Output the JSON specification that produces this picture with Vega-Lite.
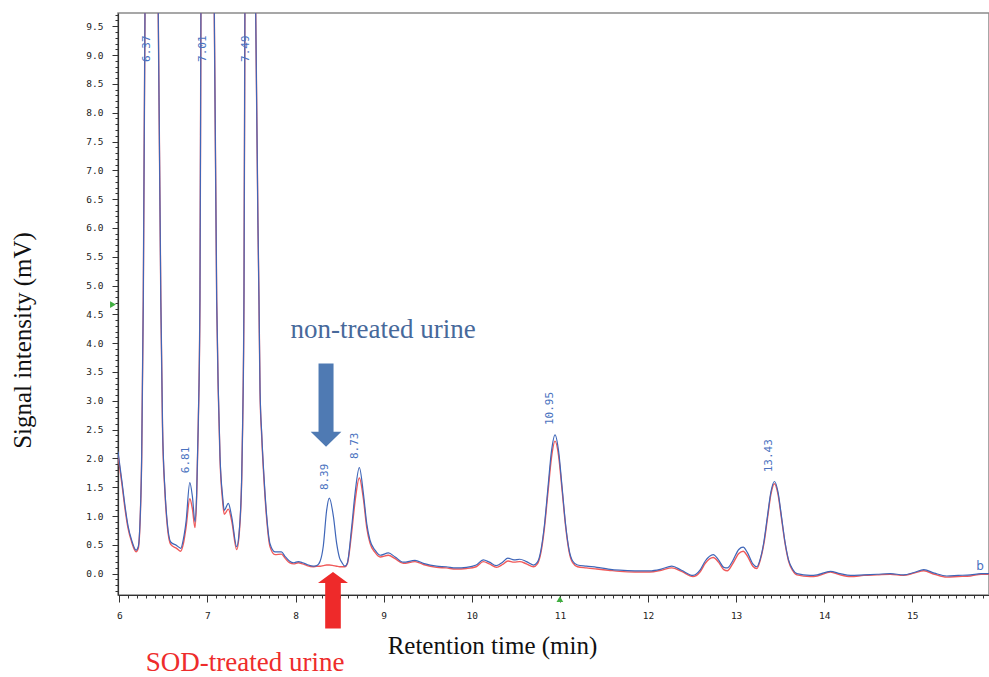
{
  "$schema": "https://vega.github.io/schema/vega-lite/v6.json",
  "width": 871,
  "height": 582,
  "autosize": {"type": "none"},
  "padding": {"left": 118, "top": 13, "right": 0, "bottom": 82},
  "background": "white",
  "config": {"view": {"stroke": "#8a8a8a", "strokeWidth": 1.5}, "axis": {"grid": false}},
  "datasets": {
    "lines": [
      {"t": 5.985, "nt": 2.12, "sod": 2.06},
      {"t": 6.03, "nt": 1.60, "sod": 1.55},
      {"t": 6.065, "nt": 1.17, "sod": 1.12},
      {"t": 6.10, "nt": 0.82, "sod": 0.78},
      {"t": 6.14, "nt": 0.58, "sod": 0.55},
      {"t": 6.19, "nt": 0.41, "sod": 0.38},
      {"t": 6.215, "nt": 0.47, "sod": 0.44},
      {"t": 6.235, "nt": 0.90, "sod": 0.88},
      {"t": 6.254, "nt": 2.05, "sod": 2.03},
      {"t": 6.272, "nt": 4.75, "sod": 4.75},
      {"t": 6.291, "nt": 9.7, "sod": 9.7},
      {"t": 6.31, "nt": 16, "sod": 16},
      {"t": 6.34, "nt": 24, "sod": 24},
      {"t": 6.37, "nt": 26, "sod": 26},
      {"t": 6.40, "nt": 22, "sod": 22},
      {"t": 6.425, "nt": 14, "sod": 14},
      {"t": 6.442, "nt": 9.7, "sod": 9.7},
      {"t": 6.471, "nt": 4.75, "sod": 4.75},
      {"t": 6.49, "nt": 2.60, "sod": 2.55},
      {"t": 6.518, "nt": 1.45, "sod": 1.40},
      {"t": 6.545, "nt": 0.87, "sod": 0.82},
      {"t": 6.583, "nt": 0.55, "sod": 0.51},
      {"t": 6.65, "nt": 0.49, "sod": 0.44},
      {"t": 6.697, "nt": 0.44, "sod": 0.39},
      {"t": 6.727, "nt": 0.60, "sod": 0.52},
      {"t": 6.757, "nt": 0.90, "sod": 0.80},
      {"t": 6.80, "nt": 1.58, "sod": 1.30},
      {"t": 6.83, "nt": 1.33, "sod": 1.12},
      {"t": 6.859, "nt": 0.90, "sod": 0.80},
      {"t": 6.878, "nt": 1.40, "sod": 1.35},
      {"t": 6.896, "nt": 2.60, "sod": 2.58},
      {"t": 6.915, "nt": 4.75, "sod": 4.75},
      {"t": 6.926, "nt": 9.7, "sod": 9.7},
      {"t": 6.95, "nt": 17, "sod": 17},
      {"t": 6.98, "nt": 23, "sod": 23},
      {"t": 7.005, "nt": 25, "sod": 25},
      {"t": 7.035, "nt": 22, "sod": 22},
      {"t": 7.06, "nt": 15, "sod": 15},
      {"t": 7.078, "nt": 9.7, "sod": 9.7},
      {"t": 7.105, "nt": 4.75, "sod": 4.75},
      {"t": 7.123, "nt": 3.19, "sod": 3.15},
      {"t": 7.143, "nt": 2.03, "sod": 1.98},
      {"t": 7.173, "nt": 1.33, "sod": 1.25},
      {"t": 7.191, "nt": 1.10, "sod": 1.03},
      {"t": 7.237, "nt": 1.22, "sod": 1.12},
      {"t": 7.275, "nt": 0.99, "sod": 0.92},
      {"t": 7.332, "nt": 0.47, "sod": 0.42},
      {"t": 7.362, "nt": 0.76, "sod": 0.72},
      {"t": 7.389, "nt": 1.68, "sod": 1.65},
      {"t": 7.40, "nt": 2.61, "sod": 2.60},
      {"t": 7.415, "nt": 4.92, "sod": 4.92},
      {"t": 7.425, "nt": 9.7, "sod": 9.7},
      {"t": 7.45, "nt": 16, "sod": 16},
      {"t": 7.48, "nt": 20, "sod": 20},
      {"t": 7.51, "nt": 18, "sod": 18},
      {"t": 7.535, "nt": 13, "sod": 13},
      {"t": 7.548, "nt": 9.7, "sod": 9.7},
      {"t": 7.585, "nt": 4.75, "sod": 4.75},
      {"t": 7.597, "nt": 3.19, "sod": 3.15},
      {"t": 7.616, "nt": 2.43, "sod": 2.38},
      {"t": 7.642, "nt": 1.68, "sod": 1.62},
      {"t": 7.673, "nt": 0.99, "sod": 0.94},
      {"t": 7.71, "nt": 0.52, "sod": 0.47},
      {"t": 7.767, "nt": 0.38, "sod": 0.33},
      {"t": 7.84, "nt": 0.38, "sod": 0.34},
      {"t": 7.88, "nt": 0.30, "sod": 0.27},
      {"t": 7.93, "nt": 0.22, "sod": 0.19},
      {"t": 7.98, "nt": 0.19, "sod": 0.17},
      {"t": 8.03, "nt": 0.21, "sod": 0.19},
      {"t": 8.08, "nt": 0.19, "sod": 0.17},
      {"t": 8.13, "nt": 0.16, "sod": 0.14},
      {"t": 8.20, "nt": 0.13, "sod": 0.12},
      {"t": 8.24, "nt": 0.14, "sod": 0.13},
      {"t": 8.28, "nt": 0.22, "sod": 0.13},
      {"t": 8.315, "nt": 0.48, "sod": 0.14},
      {"t": 8.353, "nt": 1.10, "sod": 0.15},
      {"t": 8.383, "nt": 1.31, "sod": 0.15},
      {"t": 8.43, "nt": 0.99, "sod": 0.14},
      {"t": 8.467, "nt": 0.52, "sod": 0.13},
      {"t": 8.50, "nt": 0.27, "sod": 0.12},
      {"t": 8.524, "nt": 0.20, "sod": 0.12},
      {"t": 8.56, "nt": 0.13, "sod": 0.12},
      {"t": 8.587, "nt": 0.18, "sod": 0.17},
      {"t": 8.637, "nt": 0.81, "sod": 0.72},
      {"t": 8.675, "nt": 1.39, "sod": 1.25},
      {"t": 8.724, "nt": 1.84, "sod": 1.66},
      {"t": 8.77, "nt": 1.39, "sod": 1.30},
      {"t": 8.808, "nt": 0.87, "sod": 0.80},
      {"t": 8.845, "nt": 0.58, "sod": 0.53},
      {"t": 8.902, "nt": 0.41, "sod": 0.37},
      {"t": 8.96, "nt": 0.32, "sod": 0.29},
      {"t": 9.054, "nt": 0.36, "sod": 0.32},
      {"t": 9.13, "nt": 0.29, "sod": 0.26},
      {"t": 9.223, "nt": 0.20, "sod": 0.18},
      {"t": 9.356, "nt": 0.23, "sod": 0.21},
      {"t": 9.45, "nt": 0.18, "sod": 0.16},
      {"t": 9.60, "nt": 0.13, "sod": 0.11},
      {"t": 9.71, "nt": 0.12, "sod": 0.10},
      {"t": 9.82, "nt": 0.10, "sod": 0.08},
      {"t": 9.94, "nt": 0.11, "sod": 0.09},
      {"t": 10.05, "nt": 0.15, "sod": 0.12},
      {"t": 10.13, "nt": 0.24, "sod": 0.21},
      {"t": 10.20, "nt": 0.20, "sod": 0.17},
      {"t": 10.28, "nt": 0.14, "sod": 0.11},
      {"t": 10.35, "nt": 0.20, "sod": 0.16},
      {"t": 10.41, "nt": 0.27, "sod": 0.22},
      {"t": 10.48, "nt": 0.24, "sod": 0.20},
      {"t": 10.545, "nt": 0.25, "sod": 0.21},
      {"t": 10.62, "nt": 0.21, "sod": 0.17},
      {"t": 10.70, "nt": 0.15, "sod": 0.12},
      {"t": 10.745, "nt": 0.20, "sod": 0.17},
      {"t": 10.785, "nt": 0.41, "sod": 0.37},
      {"t": 10.825, "nt": 0.85, "sod": 0.80},
      {"t": 10.865, "nt": 1.50, "sod": 1.42},
      {"t": 10.905, "nt": 2.13, "sod": 2.02},
      {"t": 10.945, "nt": 2.41, "sod": 2.30},
      {"t": 10.985, "nt": 2.13, "sod": 2.05},
      {"t": 11.025, "nt": 1.50, "sod": 1.45},
      {"t": 11.065, "nt": 0.85, "sod": 0.82},
      {"t": 11.105, "nt": 0.41, "sod": 0.38},
      {"t": 11.145, "nt": 0.22, "sod": 0.19},
      {"t": 11.20, "nt": 0.15, "sod": 0.12},
      {"t": 11.30, "nt": 0.13, "sod": 0.10},
      {"t": 11.42, "nt": 0.11, "sod": 0.08},
      {"t": 11.55, "nt": 0.08, "sod": 0.06},
      {"t": 11.68, "nt": 0.06, "sod": 0.04},
      {"t": 11.85, "nt": 0.05, "sod": 0.03},
      {"t": 12.02, "nt": 0.05, "sod": 0.03},
      {"t": 12.15, "nt": 0.08, "sod": 0.06},
      {"t": 12.27, "nt": 0.13, "sod": 0.10},
      {"t": 12.38, "nt": 0.06, "sod": 0.04},
      {"t": 12.51, "nt": -0.03, "sod": -0.05},
      {"t": 12.59, "nt": 0.06, "sod": 0.03},
      {"t": 12.65, "nt": 0.22, "sod": 0.18},
      {"t": 12.74, "nt": 0.33, "sod": 0.28},
      {"t": 12.80, "nt": 0.24, "sod": 0.20},
      {"t": 12.86, "nt": 0.11, "sod": 0.07},
      {"t": 12.90, "nt": 0.10, "sod": 0.05},
      {"t": 12.96, "nt": 0.22, "sod": 0.17},
      {"t": 13.03, "nt": 0.42, "sod": 0.35},
      {"t": 13.08, "nt": 0.46, "sod": 0.39},
      {"t": 13.13, "nt": 0.36, "sod": 0.30},
      {"t": 13.19, "nt": 0.17, "sod": 0.13},
      {"t": 13.235, "nt": 0.12, "sod": 0.09},
      {"t": 13.275, "nt": 0.26, "sod": 0.24},
      {"t": 13.315, "nt": 0.55, "sod": 0.52},
      {"t": 13.355, "nt": 0.99, "sod": 0.95},
      {"t": 13.395, "nt": 1.42, "sod": 1.38},
      {"t": 13.435, "nt": 1.60, "sod": 1.56},
      {"t": 13.475, "nt": 1.42, "sod": 1.38},
      {"t": 13.515, "nt": 0.99, "sod": 0.96},
      {"t": 13.555, "nt": 0.55, "sod": 0.53},
      {"t": 13.595, "nt": 0.24, "sod": 0.22},
      {"t": 13.64, "nt": 0.08, "sod": 0.06},
      {"t": 13.69, "nt": 0.00, "sod": -0.02},
      {"t": 13.84, "nt": -0.03, "sod": -0.05},
      {"t": 13.92, "nt": -0.02, "sod": -0.04},
      {"t": 14.07, "nt": 0.04, "sod": 0.03},
      {"t": 14.18, "nt": 0.00, "sod": -0.02},
      {"t": 14.30, "nt": -0.03, "sod": -0.05},
      {"t": 14.45, "nt": -0.02, "sod": -0.03},
      {"t": 14.60, "nt": -0.01, "sod": -0.02},
      {"t": 14.75, "nt": 0.00, "sod": -0.01},
      {"t": 14.90, "nt": -0.02, "sod": -0.03},
      {"t": 15.02, "nt": 0.02, "sod": 0.01},
      {"t": 15.13, "nt": 0.07, "sod": 0.05},
      {"t": 15.25, "nt": 0.01, "sod": -0.01},
      {"t": 15.39, "nt": -0.04, "sod": -0.06},
      {"t": 15.52, "nt": -0.03, "sod": -0.05},
      {"t": 15.66, "nt": -0.02, "sod": -0.04},
      {"t": 15.78, "nt": 0.00, "sod": -0.01},
      {"t": 15.87, "nt": 0.00, "sod": -0.01}
    ],
    "peaks": [
      {"label": "6.37", "t": 6.37, "v": 8.88},
      {"label": "7.01", "t": 7.01, "v": 8.88},
      {"label": "7.49", "t": 7.49, "v": 8.88},
      {"label": "6.81", "t": 6.81, "v": 1.745},
      {"label": "8.39", "t": 8.39, "v": 1.45},
      {"label": "8.73", "t": 8.73, "v": 1.99},
      {"label": "10.95", "t": 10.95, "v": 2.58},
      {"label": "13.43", "t": 13.43, "v": 1.76}
    ]
  },
  "encoding": {
    "x": {
      "field": "t", "type": "quantitative",
      "scale": {"domain": [5.985, 15.87], "nice": false, "zero": false},
      "axis": {
        "title": "Retention time (min)",
        "tickCount": 100,
        "labelExpr": "abs(datum.value - round(datum.value)) < 0.001 ? format(datum.value, 'd') : ''",
        "labelFont": "DejaVu Sans Mono", "labelFontSize": 9.5, "labelColor": "#222",
        "labelPadding": 8, "labelOverlap": false, "labelFlush": false, "labelBound": false,
        "tickSize": {"condition": {"test": "abs(datum.value - round(datum.value)) < 0.001", "value": 7}, "value": 3},
        "tickColor": "#333", "tickWidth": 1, "domainColor": "#333", "domainWidth": 1.2,
        "titleFont": "Liberation Serif", "titleFontSize": 25, "titleFontWeight": "normal", "titleColor": "#111",
        "titleX": 374, "titleY": 58, "titleBaseline": "alphabetic", "titleAlign": "center"
      }
    },
    "y": {
      "field": "v", "type": "quantitative",
      "scale": {"domain": [-0.37, 9.73], "nice": false, "zero": false},
      "axis": {
        "title": "Signal intensity (mV)",
        "tickCount": 100,
        "labelExpr": "abs(datum.value * 2 - round(datum.value * 2)) < 0.001 ? format(datum.value, '.1f') : ''",
        "labelFont": "DejaVu Sans Mono", "labelFontSize": 9.5, "labelColor": "#222",
        "labelPadding": 9, "labelOverlap": false, "labelFlush": false, "labelBound": false,
        "tickSize": {"condition": {"test": "abs(datum.value * 2 - round(datum.value * 2)) < 0.001", "value": 6}, "value": 3},
        "tickColor": "#333", "tickWidth": 1, "domainColor": "#333", "domainWidth": 1.2,
        "titleFont": "Liberation Serif", "titleFontSize": 25, "titleFontWeight": "normal", "titleColor": "#111",
        "titleX": -88, "titleY": 327, "titleAngle": 270, "titleBaseline": "alphabetic", "titleAlign": "center"
      }
    }
  },
  "layer": [
    {
      "data": {"name": "lines"},
      "transform": [{"fold": ["sod"], "as": ["s", "v"]}],
      "mark": {"type": "line", "clip": true, "color": "#f05a5a", "strokeWidth": 1.4, "interpolate": "monotone"}
    },
    {
      "data": {"name": "lines"},
      "transform": [{"fold": ["nt"], "as": ["s", "v"]}],
      "mark": {"type": "line", "clip": true, "color": "#3f66b8", "strokeWidth": 1.2, "interpolate": "monotone"}
    },
    {
      "data": {"name": "peaks"},
      "mark": {"type": "text", "angle": 270, "align": "left", "baseline": "bottom", "font": "DejaVu Sans Mono", "fontSize": 11, "color": "#4a72c0"},
      "encoding": {"text": {"field": "label"}}
    },
    {
      "data": {"values": [{"note": "non-treated urine", "t": 8.993, "v": 4.23}]},
      "mark": {"type": "text", "font": "Liberation Serif", "fontSize": 27, "color": "#47699b", "align": "center", "baseline": "middle"},
      "encoding": {"text": {"field": "note"}}
    },
    {
      "data": {"values": [{"note": "SOD-treated urine", "t": 7.427, "v": -1.55}]},
      "mark": {"type": "text", "font": "Liberation Serif", "fontSize": 27, "color": "#ee2c2c", "align": "center", "baseline": "middle"},
      "encoding": {"text": {"field": "note"}}
    },
    {
      "data": {"values": [{"t": 8.346, "v": 2.925}]},
      "mark": {"type": "point", "filled": true, "opacity": 1, "size": 6956, "color": "#4f7ab3", "strokeWidth": 0,
        "shape": "M-0.18,-1 L0.18,-1 L0.18,0.64 L0.368,0.64 L0,1 L-0.368,0.64 L-0.18,0.64 Z"}
    },
    {
      "data": {"values": [{"t": 8.425, "v": -0.46}]},
      "mark": {"type": "point", "filled": true, "opacity": 1, "size": 3204, "color": "#ee2a2a", "strokeWidth": 0,
        "shape": "M0,-1 L0.53,-0.61 L0.276,-0.61 L0.276,1 L-0.276,1 L-0.276,-0.61 L-0.53,-0.61 Z"}
    },
    {
      "data": {"values": [{"t": 5.928, "v": 4.67}]},
      "mark": {"type": "point", "filled": true, "opacity": 1, "size": 45, "color": "#3fae3f", "shape": "triangle-right"}
    },
    {
      "data": {"values": [{"t": 11.0, "v": -0.44}]},
      "mark": {"type": "point", "filled": true, "opacity": 1, "size": 45, "color": "#3fae3f", "shape": "triangle-up"}
    },
    {
      "data": {"values": [{"mark": "b", "t": 15.769, "v": 0.13}]},
      "mark": {"type": "text", "font": "DejaVu Sans", "fontSize": 12, "color": "#4a72c0", "align": "center", "baseline": "middle"},
      "encoding": {"text": {"field": "mark"}}
    }
  ]
}
